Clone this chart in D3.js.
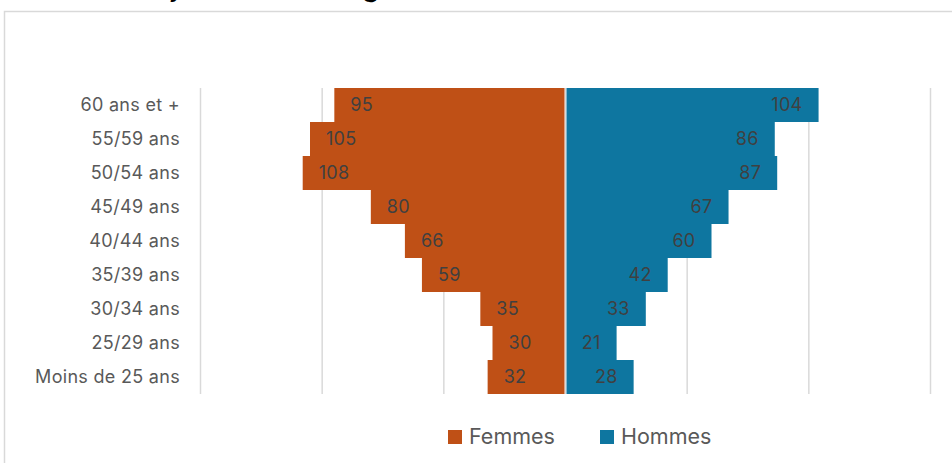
<!DOCTYPE html>
<html><head><meta charset="utf-8">
<script src="https://cdn.jsdelivr.net/npm/d3@7"></script>
<style>
html,body{margin:0;padding:0;background:#fff;overflow:hidden}
text{font-family:Inter,"Noto Sans",sans-serif}
</style></head>
<body><svg id="c" width="952" height="463"></svg>
<script>
const categories = ["60 ans et +","55/59 ans","50/54 ans","45/49 ans","40/44 ans","35/39 ans","30/34 ans","25/29 ans","Moins de 25 ans"];
const femmes = [95,105,108,80,66,59,35,30,32];
const hommes = [104,86,87,67,60,42,33,21,28];
const gridTicks = [-150,-100,-50,0,50,100,150];
const seriesNames = ["Femmes","Hommes"];
const colors = ["#BF5016","#0E76A0"];
const titleText = "Pyramide des âges";

const svg = d3.select("#c");
// partially visible title above chart frame
svg.append("text").attr("x",150).attr("y",-4).attr("font-size",29).attr("fill","#000").text(titleText);
// frame
svg.append("rect").attr("x",4.5).attr("y",11.5).attr("width",960).attr("height",470)
  .attr("fill","none").attr("stroke","#d9d9d9").attr("stroke-width",1.5);

const x = d3.scaleLinear().domain([-150,150]).range([200.5,930.5]);
const y = d3.scaleBand().domain(categories).range([88,394]).paddingInner(0).paddingOuter(0);

// gridlines
svg.append("g").selectAll("line").data(gridTicks).join("line")
  .attr("x1",d=>x(d)).attr("x2",d=>x(d)).attr("y1",88).attr("y2",394)
  .attr("stroke","#d9d9d9").attr("stroke-width",1.5);

// bars
const fem = categories.map((c,i)=>({c,v:femmes[i]}));
const hom = categories.map((c,i)=>({c,v:hommes[i]}));
svg.append("g").selectAll("rect").data(fem).join("rect")
  .attr("x",d=>x(-d.v)).attr("width",d=>x(0)-1-x(-d.v))
  .attr("y",d=>y(d.c)).attr("height",y.bandwidth()).attr("fill",colors[0]);
svg.append("g").selectAll("rect").data(hom).join("rect")
  .attr("x",x(0)+1).attr("width",d=>x(d.v)-x(0)-1)
  .attr("y",d=>y(d.c)).attr("height",y.bandwidth()).attr("fill",colors[1]);

// data labels
const lblStyle = s=>s.attr("font-size",18).attr("letter-spacing",0.3).attr("fill","#404040");
svg.append("g").selectAll("text").data(fem).join("text")
  .attr("x",d=>x(-d.v)+16).attr("y",d=>y(d.c)+y.bandwidth()/2).attr("dy","0.35em")
  .call(lblStyle).text(d=>d.v);
svg.append("g").selectAll("text").data(hom).join("text")
  .attr("x",d=>x(d.v)-16).attr("y",d=>y(d.c)+y.bandwidth()/2).attr("dy","0.35em")
  .attr("text-anchor","end").call(lblStyle).text(d=>d.v);

// category labels
svg.append("g").selectAll("text").data(categories).join("text")
  .attr("x",180).attr("y",d=>y(d)+y.bandwidth()/2).attr("dy","0.35em")
  .attr("text-anchor","end").attr("font-size",18).attr("letter-spacing",0.3)
  .attr("fill","#595959").text(d=>d);

// legend
const lg = svg.append("g");
const lx = [448,600];
seriesNames.forEach((n,i)=>{
  lg.append("rect").attr("x",lx[i]).attr("y",430).attr("width",14).attr("height",14).attr("fill",colors[i]);
  lg.append("text").attr("x",lx[i]+21).attr("y",444).attr("font-size",21.5).attr("fill","#595959").text(n);
});
</script></body></html>
